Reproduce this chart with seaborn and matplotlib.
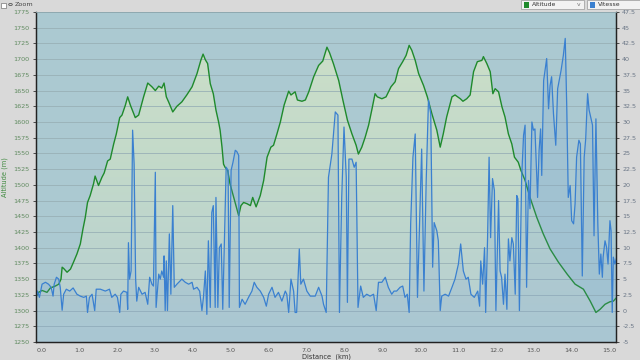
import numpy as np
import pandas as pd
import matplotlib
matplotlib.use("Agg")
import matplotlib.pyplot as plt
from matplotlib.patches import Rectangle, Circle
from matplotlib.colors import LinearSegmentedColormap
import seaborn as sns

###############
# Data
###############
alt_km = [-0.13, -0.07, 0.02, 0.15, 0.24, 0.37, 0.46, 0.52, 0.55, 0.59,
          0.68, 0.77, 0.85, 0.94, 1.03, 1.10, 1.16, 1.22, 1.29, 1.38,
          1.42, 1.51, 1.60, 1.66, 1.75, 1.82, 1.91, 1.98, 2.07, 2.13,
          2.22, 2.28, 2.35, 2.48, 2.57, 2.70, 2.81, 2.92, 3.01,
          3.10, 3.18, 3.24, 3.30, 3.36, 3.47, 3.58, 3.71, 3.84, 3.98,
          4.11, 4.21, 4.27, 4.33, 4.39, 4.46, 4.54, 4.61, 4.68, 4.72,
          4.77, 4.81, 4.85, 4.92, 4.98, 5.08, 5.15, 5.21, 5.27, 5.34,
          5.43, 5.52, 5.58, 5.67, 5.78, 5.87, 5.96, 6.06,
          6.13, 6.22, 6.31, 6.41, 6.53, 6.59, 6.70, 6.76, 6.88, 6.97,
          7.06, 7.19, 7.32, 7.43, 7.49, 7.54, 7.61, 7.71, 7.85, 7.96,
          8.08, 8.20, 8.31, 8.37, 8.46, 8.55, 8.64, 8.73, 8.81, 8.87,
          8.99, 9.10, 9.23,
          9.34, 9.43, 9.54, 9.63, 9.71, 9.78, 9.87, 9.96, 10.09, 10.19,
          10.31, 10.44, 10.53, 10.61, 10.70, 10.84, 10.92, 11.06, 11.13, 11.23,
          11.32, 11.41, 11.51, 11.63, 11.67, 11.76, 11.85, 11.92, 11.98, 12.07,
          12.16,
          12.24, 12.33, 12.42, 12.49, 12.59, 12.66, 12.77, 12.90, 13.08, 13.25,
          13.43, 13.65, 13.88, 14.09, 14.31, 14.49, 14.64, 14.75, 14.88, 15.01,
          15.10, 15.19]
alt_m = [1323, 1329, 1332, 1329, 1336, 1339, 1342, 1350, 1369, 1367,
         1361, 1366, 1377, 1390, 1406, 1430, 1448, 1472, 1483, 1502,
         1514, 1499, 1512, 1519, 1538, 1541, 1565, 1581, 1607, 1611,
         1627, 1640, 1627, 1607, 1611, 1640, 1662, 1656, 1650,
         1657, 1654, 1662, 1640, 1632, 1616, 1625, 1632, 1643, 1656,
         1677, 1698, 1708, 1699, 1693, 1661, 1645, 1619, 1600, 1587,
         1560, 1533, 1528, 1523, 1502, 1480, 1464, 1451, 1467, 1472,
         1470, 1467, 1480, 1465, 1483, 1507, 1544, 1560,
         1563, 1581, 1600, 1627, 1649, 1643, 1648, 1635, 1633, 1635,
         1648, 1672, 1690, 1697, 1709, 1719, 1710, 1693, 1666, 1635,
         1603, 1581, 1563, 1549, 1560, 1576, 1595, 1621, 1645, 1640,
         1637, 1640, 1656,
         1664, 1685, 1696, 1706, 1722, 1714, 1698, 1677, 1658, 1640,
         1613, 1587, 1560, 1581, 1608, 1640, 1643, 1637, 1633, 1637,
         1643, 1680, 1696, 1698, 1704, 1693, 1680, 1645, 1653, 1648,
         1624,
         1608, 1581, 1565, 1544, 1536, 1523, 1507, 1480, 1448, 1422,
         1398, 1377, 1358, 1342, 1334, 1315, 1297, 1302, 1310, 1314,
         1315, 1321]

speed_km = [-0.13, -0.10, -0.05, 0.02, 0.11, 0.19, 0.26, 0.31, 0.34, 0.40,
            0.46, 0.50, 0.55, 0.59, 0.66, 0.75, 0.84, 0.94, 1.03, 1.12,
            1.19, 1.22, 1.27, 1.34, 1.41, 1.45, 1.56, 1.69, 1.80, 1.86,
            1.95, 2.01, 2.07, 2.10, 2.17, 2.26, 2.28, 2.30, 2.33, 2.37,
            2.41, 2.45, 2.49, 2.52, 2.57, 2.66, 2.74, 2.81, 2.86, 2.92,
            2.96, 3.01, 3.03, 3.10, 3.14, 3.18, 3.23, 3.24, 3.27, 3.30,
            3.33, 3.38, 3.42, 3.47, 3.51, 3.58, 3.71, 3.80, 3.89, 3.98,
            4.02, 4.11, 4.18, 4.24, 4.28, 4.33, 4.37, 4.41, 4.46, 4.50,
            4.54, 4.59, 4.61, 4.66, 4.70, 4.75, 4.79, 4.85, 4.88, 4.93,
            4.96, 5.01, 5.06, 5.12, 5.16, 5.21, 5.23, 5.30, 5.38, 5.47,
            5.56, 5.62, 5.69, 5.78, 5.87, 5.94, 6.00, 6.09,
            6.17, 6.26, 6.35, 6.44, 6.48, 6.53, 6.59, 6.66, 6.70, 6.74,
            6.81, 6.85, 6.92, 7.01, 7.10, 7.23, 7.32, 7.41, 7.45, 7.52,
            7.58, 7.67, 7.76, 7.83, 7.87, 7.93, 7.99, 8.05, 8.08, 8.12,
            8.20, 8.26, 8.31, 8.36, 8.43, 8.50, 8.59, 8.68, 8.77, 8.84,
            8.90, 8.99, 9.08, 9.16, 9.25, 9.31,
            9.38, 9.47, 9.54, 9.60, 9.66, 9.71, 9.75, 9.81, 9.87, 9.93,
            9.98, 10.04, 10.10, 10.16, 10.22, 10.28, 10.33, 10.37, 10.44, 10.48,
            10.53, 10.57, 10.66, 10.75, 10.84, 10.92, 11.01, 11.07, 11.14, 11.21,
            11.27, 11.34, 11.43, 11.52, 11.57, 11.60, 11.65, 11.70, 11.73, 11.78,
            11.82, 11.86, 11.91, 11.96, 12.00, 12.07, 12.11, 12.15, 12.20,
            12.24, 12.29, 12.33, 12.37, 12.42, 12.46, 12.51, 12.55, 12.58, 12.62,
            12.68, 12.73, 12.77, 12.81, 12.86, 12.90, 12.95, 12.99, 13.03, 13.10,
            13.14, 13.18, 13.21, 13.26, 13.34, 13.39, 13.43, 13.47, 13.52, 13.58,
            13.63, 13.72, 13.78, 13.83, 13.87, 13.91, 13.96, 14.00, 14.05, 14.09,
            14.13, 14.19, 14.23, 14.28, 14.33, 14.37, 14.42, 14.46, 14.55, 14.59,
            14.64, 14.69, 14.73, 14.77, 14.81, 14.83, 14.88, 14.92, 14.96, 15.01,
            15.04, 15.07, 15.10, 15.14, 15.19]
speed_kmh = [2.1, 3.1, 2.1, 4.2, 4.5, 4.2, 3.7, 2.3, 4.2, 5.3,
             5.0, 3.7, 0.05, 2.6, 3.4, 3.1, 3.6, 2.6, 2.3, 2.1,
             2.3, -0.3, 2.1, 2.6, 0.0, 3.4, 3.4, 3.1, 3.4, 2.1,
             2.6, 2.1, -0.3, 2.6, 3.1, 2.9, 0.2, 10.8, 5.0, 6.3,
             28.7, 23.3, 5.0, 1.5, 3.7, 2.6, 2.9, 1.0, 5.3, 4.2,
             3.9, 22.0, 0.5, 5.8, 5.0, 6.3, 5.3, 8.7, 0.0, 7.9,
             0.0, 12.2, 2.6, 16.7, 3.7, 4.2, 5.0, 4.5, 4.2, 4.5,
             3.4, 3.7, 3.1, 0.0, 2.1, 6.3, -0.6, 11.1, 0.5, 15.6,
             16.7, 0.5, 18.0, 0.5, 10.0, 10.6, 0.2, 14.8, 22.8, 22.3,
             0.5, 22.3, 23.6, 25.5, 25.3, 24.7, 0.5, 1.8, 1.0, 2.1,
             3.1, 4.5, 3.7, 3.1, 2.1, 0.7, 2.6, 3.7,
             2.1, 2.9, 1.5, 3.1, 2.6, -0.3, 5.0, 3.1, -0.3, -0.3,
             9.8, 4.2, 5.0, 3.1, 2.3, 2.3, 3.7, 2.3, 1.0, -0.3,
             21.2, 24.9, 31.6, 31.1, -0.3, 18.0, 29.2, 21.2, 1.3, 24.1,
             24.1, 22.8, 23.6, 0.5, 3.9, 2.1, 2.6, 2.3, 2.6, 0.0,
             4.5, 4.5, 5.3, 3.7, 2.6, 3.1,
             3.1, 3.7, 3.9, 2.1, 2.6, -0.3, 13.8, 24.4, 28.1, 2.1,
             12.7, 25.7, 3.1, 20.7, 33.5, 31.3, 6.9, 14.0, 12.7, 11.1,
             0.0, 2.3, 2.6, 2.3, 3.7, 5.0, 7.4, 10.6, 6.3, 5.0,
             5.3, 2.6, 2.1, 3.1, 0.7, 7.9, 4.2, 10.0, -0.3, 11.6,
             24.4, 11.6, 21.0, 19.1, 0.0, 17.5, 6.3, 5.3, 1.0,
             5.8, 0.2, 11.4, 7.9, 11.6, 10.6, 2.6, 18.3, 17.8, 0.0,
             21.2, 27.9, 29.5, 3.7, 20.7, 16.2, 30.0, 28.7, 28.9, 18.0,
             25.5, 28.9, 21.5, 36.6, 40.1, 32.1, 35.8, 37.2, 31.3, 26.3,
             35.3, 38.2, 40.6, 43.3, 32.4, 18.0, 19.9, 14.3, 13.8, 17.0,
             24.4, 27.1, 26.5, 5.5, 24.4, 27.3, 34.5, 31.9, 29.5, 11.9,
             30.5, 13.8, 5.8, 9.0, 5.3, 8.5, 11.1, 10.1, 7.4, 14.3,
             12.7, -0.3, 8.5, 7.4, 8.5]

dist_ticks = [0, 1, 2, 3, 4, 5, 6, 7, 8, 9, 10, 11, 12, 13, 14, 15]
alt_ticks = list(range(1250, 1776, 25))
speed_ticks = [-5, -2.5, 0, 2.5, 5, 7.5, 10, 12.5, 15, 17.5, 20, 22.5, 25,
               27.5, 30, 32.5, 35, 37.5, 40, 42.5, 45, 47.5]

df_alt = pd.DataFrame({"km": alt_km, "alt": alt_m})
df_speed = pd.DataFrame({"km": speed_km, "speed": speed_kmh})

###############
# Plot
###############
sns.set_style("white")
plt.rcParams['font.family'] = ['DejaVu Sans']

X0, X1 = -0.14, 15.17
GREEN = "#1f8a2c"
BLUE = "#3a80d0"

fig = plt.figure(figsize=(6.4, 3.6), dpi=100, facecolor="#d9d9d9")
ax = fig.add_axes([36 / 640, 1 - 342 / 360, 580 / 640, 330 / 360])
ax.set_facecolor("#abc9d1")

# gradient under the altitude profile
poly = ax.fill_between(df_alt.km, df_alt.alt, 1250, color="none", lw=0)
grad = np.linspace(0, 1, 256).reshape(-1, 1)
cmap = LinearSegmentedColormap.from_list("alt", ["#cde0c8", "#c2d9ca", "#b5ced3"])
im = ax.imshow(grad, extent=[X0, X1, 1250, 1775], aspect="auto", cmap=cmap,
               origin="upper", zorder=0.5)
im.set_clip_path(poly.get_paths()[0], transform=ax.transData)

sns.lineplot(data=df_alt, x="km", y="alt", ax=ax, color=GREEN, lw=1.0,
             estimator=None, sort=False, zorder=3)

ax.set_xlim(X0, X1)
ax.set_ylim(1250, 1775)
ax.set_yticks(alt_ticks)
ax.set_xticks(dist_ticks)
ax.set_xticklabels([f"{t:.1f}" for t in dist_ticks])
ax.yaxis.grid(True, color="#98b0b6", lw=0.6)
ax.xaxis.grid(False)
ax.set_axisbelow("line")
ax.tick_params(axis="y", labelsize=4.6, labelcolor="#5f8a5f", length=2.5,
               width=0.6, color="#333333", pad=2)
ax.tick_params(axis="x", labelsize=4.6, labelcolor="#555555", length=2,
               width=0.6, color="#333333", pad=2)
ax.set_xlabel("Distance  (km)", fontsize=4.8, color="#333333", labelpad=1)
ax.set_ylabel("Altitude (m)", fontsize=4.8, color="#3f8a3f", labelpad=4)

ax2 = ax.twinx()
ax2.fill_between(df_speed.km, df_speed.speed, -5, color="#6a9ad6", alpha=0.15, lw=0)
sns.lineplot(data=df_speed, x="km", y="speed", ax=ax2, color=BLUE, lw=0.9,
             estimator=None, sort=False)
ax2.set_ylim(-5, 47.5)
ax2.set_xlim(X0, X1)
ax2.set_yticks(speed_ticks)
ax2.set_yticklabels([f"{t:g}" for t in speed_ticks])
ax2.set_ylabel("")
ax2.tick_params(axis="y", labelsize=4.6, labelcolor="#6a7686", length=2.5,
                width=0.6, color="#333333", pad=2)
ax2.grid(False)

for a in (ax, ax2):
    for side in ("left", "right", "bottom"):
        a.spines[side].set_color("#222222")
        a.spines[side].set_linewidth(0.9)
    a.spines["top"].set_color("#8fa9b0")
    a.spines["top"].set_linewidth(0.6)

# top bar: zoom checkbox and series selectors
fig.add_artist(Rectangle((1 / 640, 1 - 8 / 360), 5 / 640, 5 / 360,
                         transform=fig.transFigure, fc="white", ec="#777777", lw=0.5))
fig.add_artist(Circle((10.5 / 640, 1 - 4.5 / 360), 1.8 / 640,
                      transform=fig.transFigure, fc="none", ec="#555555", lw=0.6))
fig.text(15 / 640, 1 - 5 / 360, "Zoom", fontsize=4.6, color="#444444", va="center")

fig.add_artist(Rectangle((521 / 640, 1 - 9 / 360), 63 / 640, 8.5 / 360,
                         transform=fig.transFigure, fc="#f2f2f2", ec="#999999", lw=0.5))
fig.add_artist(Rectangle((524 / 640, 1 - 7.5 / 360), 5 / 640, 5.5 / 360,
                         transform=fig.transFigure, fc=GREEN, ec="none"))
fig.text(532 / 640, 1 - 4.8 / 360, "Altitude", fontsize=4.4, color="#333333", va="center")
fig.text(579 / 640, 1 - 5 / 360, "v", fontsize=4.4, color="#777777", va="center", ha="center")

fig.add_artist(Rectangle((587 / 640, 1 - 9 / 360), 53 / 640, 8.5 / 360,
                         transform=fig.transFigure, fc="#f2f2f2", ec="#999999", lw=0.5))
fig.add_artist(Rectangle((589.5 / 640, 1 - 7.5 / 360), 5 / 640, 5.5 / 360,
                         transform=fig.transFigure, fc=BLUE, ec="none"))
fig.text(598 / 640, 1 - 4.8 / 360, "Vitesse", fontsize=4.4, color="#333333", va="center")

fig.savefig("out.png", dpi=100, facecolor=fig.get_facecolor())
